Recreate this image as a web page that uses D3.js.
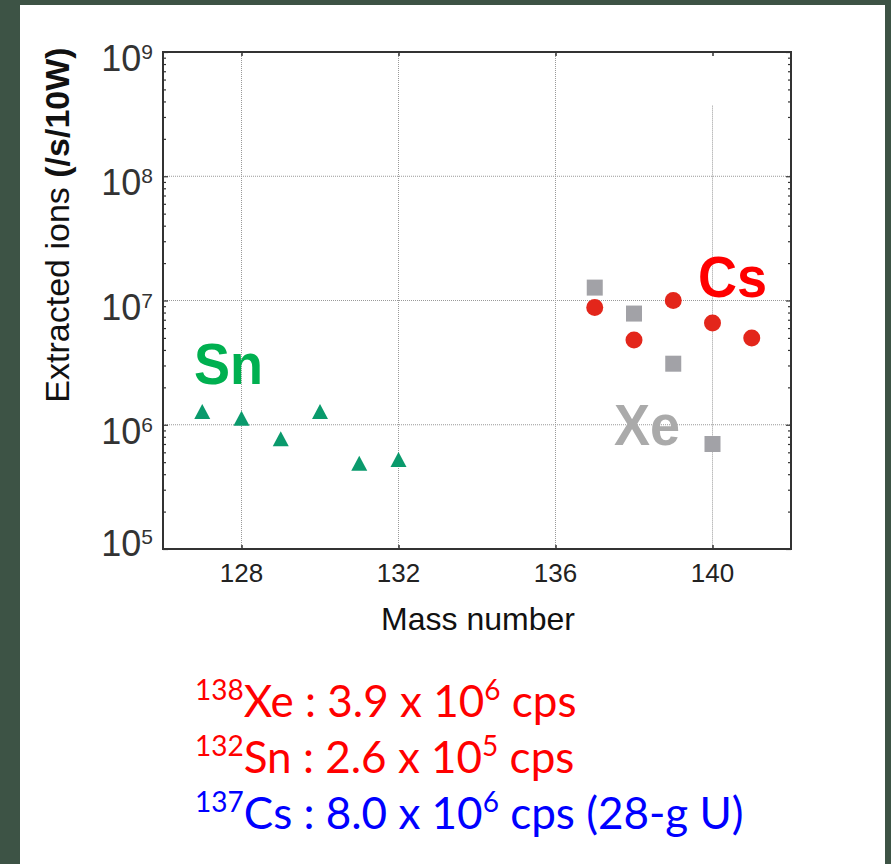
<!DOCTYPE html>
<html>
<head>
<meta charset="utf-8">
<script src="https://cdn.jsdelivr.net/npm/d3@7"></script>
<style>
  html, body { margin: 0; padding: 0; background: #3d5345; }
  svg { display: block; }
</style>
</head>
<body>
<svg id="chart" width="891" height="864"></svg>
<script>
// data
var massSn = [127, 128, 129, 130, 131, 132];
var ionsSn = [1.28e6, 1.13e6, 7.7e5, 1.28e6, 4.9e5, 5.25e5];
var massXe = [137, 138, 139, 140];
var ionsXe = [1.27e7, 7.85e6, 3.1e6, 7.0e5];
var massCs = [137, 138, 139, 140, 141];
var ionsCs = [8.8e6, 4.8e6, 1.0e7, 6.6e6, 5.0e6];
var xTicks = [128, 132, 136, 140];
var yExps = [5, 6, 7, 8, 9];

// text block under the chart
var noteMass = ["138", "132", "137"];
var noteElem = ["Xe", "Sn", "Cs"];
var noteValue = ["3.9", "2.6", "8.0"];
var noteExp = ["6", "5", "6"];
var noteTail = [" cps", " cps", " cps (28-g U)"];

(function(){
var svg = d3.select("#chart");

// white slide panel
svg.append("rect").attr("x", 20).attr("y", 5).attr("width", 865).attr("height", 870).attr("fill", "#fff");

var pl = 163, pr = 791, pt = 52, pb = 549;
var x = d3.scaleLinear().domain([126, 142]).range([pl, pr]);
var y = d3.scaleLog().domain([1e5, 1e9]).range([pb, pt]);

var g = svg.append("g");

// gridlines (dotted)
g.selectAll(".vgrid").data(xTicks).enter().append("line")
  .attr("x1", function(d){ return x(d); }).attr("x2", function(d){ return x(d); })
  .attr("y1", function(d){ return d == 140 ? y(3.7e8) : pt; }).attr("y2", pb)
  .attr("stroke", "#999").attr("stroke-width", 1).attr("stroke-dasharray", "1,1");
g.selectAll(".hgrid").data([1e6, 1e7, 1e8]).enter().append("line")
  .attr("x1", pl).attr("x2", pr)
  .attr("y1", function(d){ return y(d); }).attr("y2", function(d){ return y(d); })
  .attr("stroke", "#999").attr("stroke-width", 1).attr("stroke-dasharray", "1,1");

// minor + major y ticks, both sides, pointing in
var yAll = [];
for (var e = 5; e < 9; e++) for (var m = 1; m < 10; m++) yAll.push(m * Math.pow(10, e));
yAll.push(1e9);
var ga = g.append("g").attr("transform", "translate(" + pl + ",0)").call(d3.axisRight(y).tickValues(yAll).tickFormat(""));
var gb = g.append("g").attr("transform", "translate(" + pr + ",0)").call(d3.axisLeft(y).tickValues(yAll).tickFormat(""));
[ga, gb].forEach(function(a){
  a.select(".domain").remove();
  a.selectAll(".tick line").attr("stroke", "#333").attr("stroke-width", 1.2)
    .attr("x2", function(d){ var s = Math.abs(Math.log10(d) - Math.round(Math.log10(d))) < 1e-9 ? 5 : 3; return a === ga ? s : -s; });
});
[g.append("g").attr("transform", "translate(0," + pb + ")").call(d3.axisTop(x).tickValues(xTicks).tickSize(4).tickFormat("")),
 g.append("g").attr("transform", "translate(0," + pt + ")").call(d3.axisBottom(x).tickValues(xTicks).tickSize(4).tickFormat(""))].forEach(function(a){
  a.select(".domain").remove();
  a.selectAll(".tick line").attr("stroke", "#333").attr("stroke-width", 1.5);
});

// frame
g.append("rect").attr("x", pl).attr("y", pt).attr("width", pr - pl).attr("height", pb - pt)
  .attr("fill", "none").attr("stroke", "#333").attr("stroke-width", 2);

// tick labels
var yl = g.selectAll(".ylab").data(yExps).enter().append("text")
  .attr("x", 153).attr("y", function(d){ return y(Math.pow(10, d)) + (d == 5 ? 7 : 19); })
  .attr("text-anchor", "end")
  .attr("font-family", "Liberation Sans, Arial, sans-serif").attr("font-size", 36).attr("fill", "#333");
yl.append("tspan").text("10");
yl.append("tspan").attr("font-size", 21).attr("dy", -12).text(function(d){ return d; });

g.selectAll(".xlab").data(xTicks).enter().append("text")
  .attr("x", function(d){ return x(d); }).attr("y", 582)
  .attr("text-anchor", "middle")
  .attr("font-family", "Liberation Sans, Arial, sans-serif").attr("font-size", 26).attr("fill", "#222")
  .text(function(d){ return d; });

g.append("text").attr("x", 478).attr("y", 630).attr("text-anchor", "middle")
  .attr("font-family", "Liberation Sans, Arial, sans-serif").attr("font-size", 32).attr("fill", "#111")
  .text("Mass number");

var yt = g.append("text").attr("transform", "translate(69,225) rotate(-90)").attr("text-anchor", "middle")
  .attr("font-family", "Liberation Sans, Arial, sans-serif").attr("font-size", 34).attr("fill", "#111");
yt.append("tspan").text("Extracted ions ");
yt.append("tspan").attr("font-weight", "bold").text("(/s/10W)");

// markers
g.selectAll(".sn").data(massSn).enter().append("path")
  .attr("transform", function(d, i){ return "translate(" + x(d) + "," + y(ionsSn[i]) + ")"; })
  .attr("d", "M0,-7.5L8,7.5L-8,7.5Z").attr("fill", "#0a9a6c");
g.selectAll(".xe").data(massXe).enter().append("rect")
  .attr("x", function(d){ return x(d) - 8; }).attr("y", function(d, i){ return y(ionsXe[i]) - 8; })
  .attr("width", 16).attr("height", 16).attr("fill", "#a2a2a7");
g.selectAll(".cs").data(massCs).enter().append("circle")
  .attr("cx", function(d){ return x(d); }).attr("cy", function(d, i){ return y(ionsCs[i]); })
  .attr("r", 8.5).attr("fill", "#e3261b");

// element labels (slightly tall letters, as in the slide)
var lab = [["Sn", 194, 384, "#00b050"], ["Cs", 698, 297, "#ff0000"], ["Xe", 614, 445, "#aaaaaa"]];
g.selectAll(".elab").data(lab).enter().append("text")
  .attr("transform", function(d){ return "translate(" + d[1] + "," + d[2] + ") scale(1,1.06)"; })
  .attr("font-family", "Liberation Sans, Arial, sans-serif").attr("font-weight", "bold")
  .attr("font-size", 54).attr("fill", function(d){ return d[3]; })
  .text(function(d){ return d[0]; });

// note lines
var noteColor = ["#ff0000", "#ff0000", "#0000ff"];
var nt = svg.selectAll(".note").data(noteElem).enter().append("text")
  .attr("x", 195).attr("y", function(d, i){ return 717 + i * 56; })
  .attr("font-family", "Lato, Open Sans, sans-serif").attr("font-size", 44)
  .attr("fill", function(d, i){ return noteColor[i]; });
nt.append("tspan").attr("font-size", 28).attr("dy", -17).text(function(d, i){ return noteMass[i]; });
nt.append("tspan").attr("dy", 17).text(function(d, i){ return d + " : " + noteValue[i] + " x 10"; });
nt.append("tspan").attr("font-size", 28).attr("dy", -17).text(function(d, i){ return noteExp[i]; });
nt.append("tspan").attr("dy", 17).text(function(d, i){ return noteTail[i]; });
})();
</script>
</body>
</html>
